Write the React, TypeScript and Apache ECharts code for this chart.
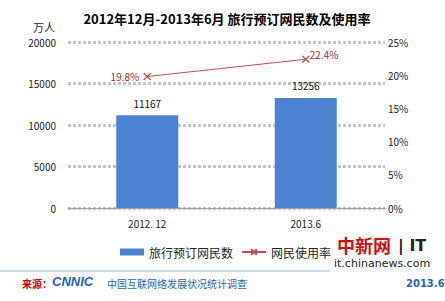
import React, { useEffect, useRef } from "react";
import * as echarts from "echarts";

const categories = ["2012. 12", "2013.6"];
const users = [11167, 13256];
const rates = [19.8, 22.4];
const leftTicks = [0, 20000, 5000];
const rightTicks = [0, 25, 5];

const crossPath = "path://M0,0L10,10M10,0L0,10";

export default function App() {
  const ref = useRef<HTMLDivElement>(null);
  useEffect(() => {
    if (!ref.current) return;
    const chart = echarts.init(ref.current, null, { renderer: "svg" });
    const font = "'Noto Sans CJK SC', 'Noto Sans', sans-serif";
    chart.setOption({
      animation: false,
      backgroundColor: "#ffffff",
      textStyle: { fontFamily: font },
      title: {
        text: "2012年12月-2013年6月 旅行预订网民数及使用率",
        left: 222,
        textAlign: "center",
        top: 7,
        textStyle: { fontSize: 13, fontWeight: "bold", color: "#000", fontFamily: font },
      },
      grid: { left: 68, right: 60, top: 42, bottom: 93 },
      legend: {
        left: 115,
        top: 241,
        itemWidth: 24,
        itemHeight: 7,
        itemGap: 8,
        textStyle: { fontSize: 12, color: "#222", fontFamily: font },
        data: [
          { name: "旅行预订网民数", icon: "rect" },
          { name: "网民使用率" },
        ],
      },
      xAxis: {
        type: "category",
        data: categories,
        axisLine: { lineStyle: { color: "#a0a0a0" } },
        axisTick: { inside: true, length: 3, lineStyle: { color: "#a0a0a0" } },
        axisLabel: { fontSize: 10, color: "#222", margin: 10 },
      },
      yAxis: [
        {
          type: "value",
          min: leftTicks[0],
          max: leftTicks[1],
          interval: leftTicks[2],
          axisLine: { show: false },
          axisTick: { show: false },
          axisLabel: { fontSize: 10, color: "#222", margin: 12, formatter: (v: number) => String(v) },
          splitLine: { lineStyle: { color: "#c4c4c4", width: 3, type: [3, 2] } },
        },
        {
          type: "value",
          min: rightTicks[0],
          max: rightTicks[1],
          interval: rightTicks[2],
          axisLine: { show: false },
          axisTick: { show: false },
          axisLabel: { fontSize: 10, color: "#222", margin: 3, formatter: "{value}%" },
          splitLine: { show: false },
        },
      ],
      series: [
        {
          name: "旅行预订网民数",
          type: "bar",
          data: users,
          barWidth: 62,
          itemStyle: { color: "#4d82d2" },
          label: { show: true, position: "top", distance: 7, fontSize: 10, color: "#111" },
        },
        {
          name: "网民使用率",
          type: "line",
          yAxisIndex: 1,
          data: [
            { value: rates[0] },
            { value: rates[1], label: { position: "right", offset: [-4, -5] } },
          ],
          symbol: crossPath,
          symbolSize: 7,
          lineStyle: { color: "#c0504d", width: 1 },
          itemStyle: { color: "none", borderColor: "#c0504d", borderWidth: 1.2 },
          label: {
            show: true,
            fontSize: 10,
            color: "#a52a2a",
            formatter: "{c}%",
            position: "left",
            distance: 2,
          },
        },
      ],
      graphic: [
        { type: "text", left: 33, top: 21, style: { text: "万人", fontSize: 11, fill: "#222", fontFamily: font } },
        { type: "line", shape: { x1: 0, y1: 271, x2: 330, y2: 271 }, style: { stroke: "#9db8dc", lineWidth: 1 } },
        { type: "text", left: 22, top: 278, style: { text: "来源：", fontSize: 10, fill: "#c00000", fontWeight: "bold", fontFamily: font } },
        { type: "text", left: 52, top: 275, style: { text: "CNNIC", fontSize: 13, fill: "#1f5fb8", fontWeight: "bold", fontStyle: "italic", fontFamily: "'Liberation Sans', sans-serif" } },
        { type: "text", left: 107, top: 278, style: { text: "中国互联网络发展状况统计调查", fontSize: 10, fill: "#1f5fb8", fontFamily: font } },
        { type: "text", left: 406, top: 278, style: { text: "2013.6", fontSize: 10, fill: "#1f5fb8", fontWeight: "bold", fontFamily: "'DejaVu Sans', sans-serif" } },
        { type: "text", left: 337, top: 236, style: { text: "中新网", fontSize: 18, fill: "#d01010", fontWeight: "bold", fontFamily: font } },
        { type: "text", left: 398, top: 237, style: { text: "| IT", fontSize: 16, fill: "#222", fontWeight: "bold", fontFamily: "'DejaVu Sans', sans-serif" } },
        { type: "text", left: 334, top: 258, style: { text: "it.chinanews.com", fontSize: 11, fill: "#222", fontFamily: "'DejaVu Sans', sans-serif" } },
      ],
    });
    return () => chart.dispose();
  }, []);
  return <div ref={ref} style={{ width: 445, height: 301, position: "absolute", left: 0, top: 0 }} />;
}
